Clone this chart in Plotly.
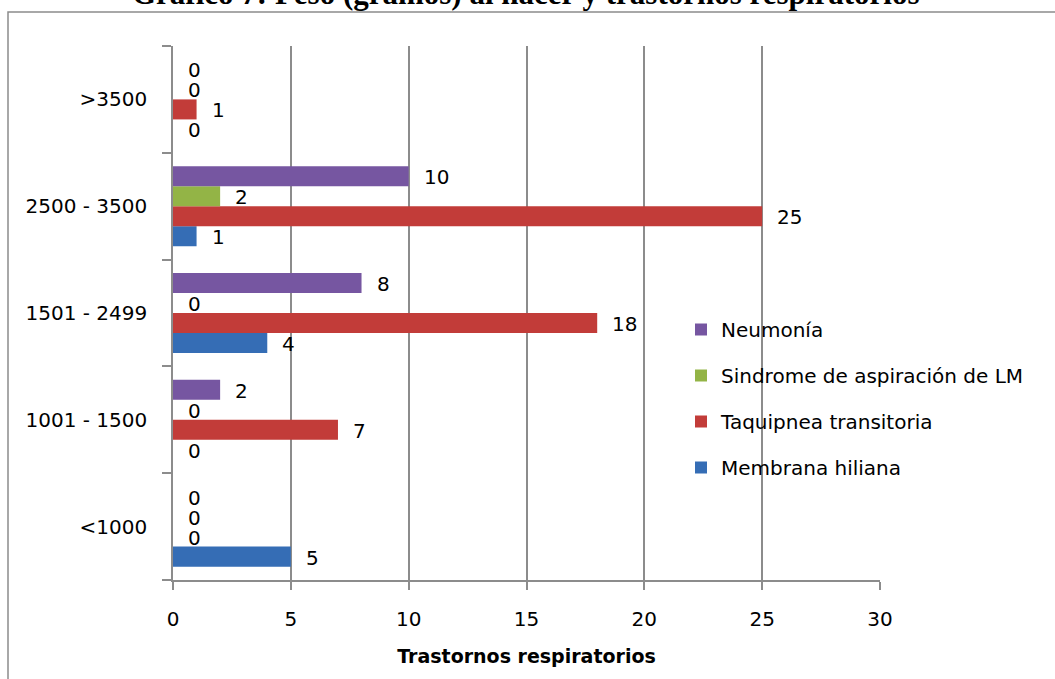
import plotly.graph_objects as go

# Birth-weight groups (grams) and counts of respiratory disorders
categorias = ["<1000", "1001 - 1500", "1501 - 2499", "2500 - 3500", ">3500"]
membrana_hiliana = [5, 0, 4, 1, 0]
taquipnea_transitoria = [0, 7, 18, 25, 1]
sindrome_aspiracion = [0, 0, 0, 2, 0]
neumonia = [0, 2, 8, 10, 0]

series = [
    ("Membrana hiliana", membrana_hiliana, "#356db5"),
    ("Taquipnea transitoria", taquipnea_transitoria, "#c23c39"),
    ("Sindrome de aspiración de LM", sindrome_aspiracion, "#93b446"),
    ("Neumonía", neumonia, "#7656a1"),
]

W, H = 1055, 679
L, R, T, B = 173, 880, 46, 580  # plot area in pixels


def px(xp):
    return (xp - L) / (R - L)


def py(yp):
    return (B - yp) / (B - T)


FONT = "DejaVu Sans, Verdana, sans-serif"
BARGAP = 0.25
n = len(series)
bar_w = (1 - BARGAP) / n

fig = go.Figure()
annotations = []
for i, (name, vals, color) in enumerate(series):
    fig.add_trace(go.Bar(
        y=categorias, x=vals, name=name, orientation="h",
        marker=dict(color=color, line=dict(width=0)),
        legendgroup=name, legendrank=n - i,
    ))
    offset = -(1 - BARGAP) / 2 + (i + 0.5) * bar_w
    for j, v in enumerate(vals):
        annotations.append(dict(
            x=v, y=j + offset, xref="x", yref="y", text=str(v),
            showarrow=False, xanchor="left", yanchor="middle",
            xshift=13, yshift=-1,
            font=dict(family=FONT, size=20, color="#000000"),
        ))

# Title (partly above the page edge)
annotations.append(dict(
    x=px(525), y=py(-7), xref="paper", yref="paper",
    text="<b>Gráfico 7: Peso (gramos) al nacer y trastornos respiratorios</b>",
    showarrow=False, xanchor="center", yanchor="middle",
    font=dict(family="Liberation Serif, Times New Roman, serif", size=31, color="#000000"),
))

fig.update_layout(
    width=W, height=H,
    margin=dict(l=L, r=W - R, t=T, b=H - B, pad=0),
    paper_bgcolor="white", plot_bgcolor="white",
    barmode="group", bargap=BARGAP, bargroupgap=0,
    font=dict(family=FONT, size=20, color="#000000"),
    showlegend=True,
    legend=dict(
        x=px(681), y=py(310), xanchor="left", yanchor="top",
        traceorder="grouped", tracegroupgap=17,
        font=dict(family=FONT, size=20, color="#000000"),
        bgcolor="rgba(0,0,0,0)", itemwidth=30,
    ),
    annotations=annotations,
    shapes=[dict(
        type="rect", xref="paper", yref="paper",
        x0=px(8), x1=px(1070), y0=py(12), y1=py(700),
        line=dict(color="#8c8c8c", width=1.5), layer="below",
    )],
)

fig.update_xaxes(
    range=[0, 30], dtick=5, tick0=0,
    showgrid=True, gridcolor="#8c8c8c", gridwidth=1.5,
    showline=True, linecolor="#8c8c8c", linewidth=1.5,
    ticks="outside", ticklen=8, tickcolor="#8c8c8c", tickwidth=1.5,
    ticklabelstandoff=12, zeroline=False,
    tickfont=dict(family=FONT, size=20, color="#000000"),
    title=dict(text="<b>Trastornos respiratorios</b>", standoff=20,
               font=dict(family=FONT, size=19, color="#000000")),
)
fig.update_yaxes(
    type="category", categoryorder="array", categoryarray=categorias,
    range=[-0.5, 4.5],
    showgrid=False, showline=True, linecolor="#8c8c8c", linewidth=1.5,
    ticks="outside", tickson="boundaries", ticklen=9,
    tickcolor="#8c8c8c", tickwidth=1.5,
    ticklabelstandoff=20, zeroline=False,
    tickfont=dict(family=FONT, size=20, color="#000000"),
)

fig.write_html("out.html")
